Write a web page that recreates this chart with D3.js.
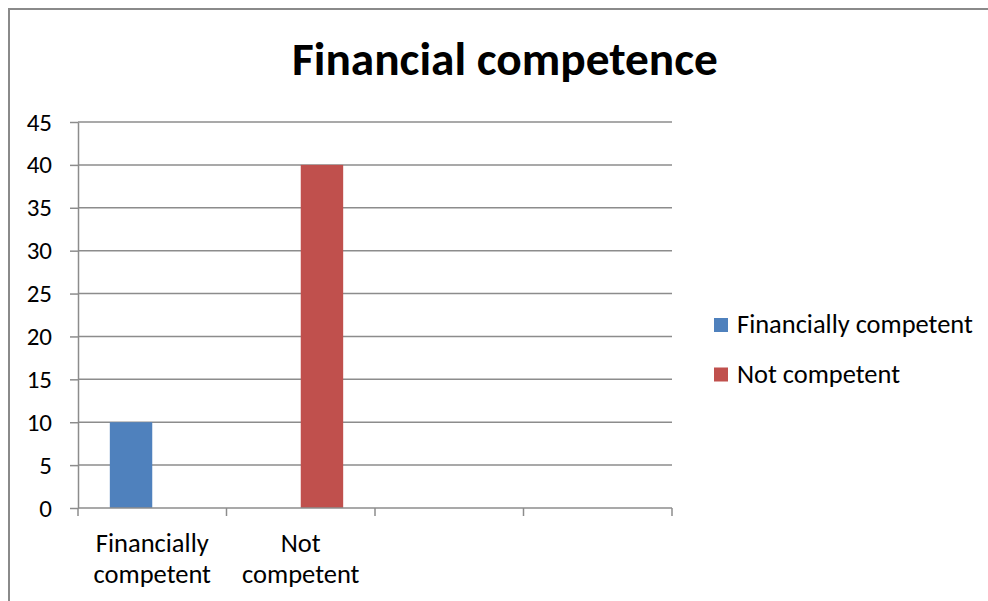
<!DOCTYPE html>
<html>
<head>
<meta charset="utf-8">
<script src="https://cdn.jsdelivr.net/npm/d3@7"></script>
<style>
  html, body { margin: 0; padding: 0; background: #ffffff; }
  svg { display: block; }
  text { font-family: Carlito, "Open Sans", "Liberation Sans", sans-serif; fill: #000000; }
</style>
</head>
<body>
<svg id="chart" width="988" height="601"></svg>
<script>
// Chart data
const title = "Financial competence";
const categories = ["Financially competent", "Not competent", "", ""];
const categoryLines = [["Financially", "competent"], ["Not", "competent"], [], []];
const seriesNames = ["Financially competent", "Not competent"];
const financiallyCompetent = [10, 0, null, null];
const notCompetent = [0, 40, null, null];
const seriesColors = ["#4F81BD", "#C0504D"];
const yTicks = [0, 5, 10, 15, 20, 25, 30, 35, 40, 45];

const seriesValues = [financiallyCompetent, notCompetent];

const W = 988, H = 601;
const plot = { left: 78, right: 672, top: 122, bottom: 508 };
const gridColor = "#8c8c8c";

const svg = d3.select("#chart");

// Outer chart frame (extends past the window on the right and bottom)
svg.append("rect")
  .attr("x", 9).attr("y", 9)
  .attr("width", W + 40).attr("height", H + 40)
  .attr("fill", "#ffffff")
  .attr("stroke", "#8a8a8a")
  .attr("stroke-width", 2);

// Scales
const y = d3.scaleLinear().domain([0, 45]).range([plot.bottom, plot.top]);
const x0 = d3.scaleBand().domain(d3.range(categories.length)).range([plot.left, plot.right]).padding(0);
// 150% gap between clusters -> 0.75 bar widths on each side
const x1 = d3.scaleBand().domain(d3.range(seriesNames.length)).range([0, x0.bandwidth()])
  .paddingInner(0).paddingOuter(0.75);

// Horizontal gridlines
svg.append("g")
  .selectAll("line")
  .data(yTicks.filter(t => t > 0))
  .join("line")
  .attr("x1", plot.left).attr("x2", plot.right)
  .attr("y1", d => y(d)).attr("y2", d => y(d))
  .attr("stroke", gridColor).attr("stroke-width", 1.5);

// Y axis
const yAxis = svg.append("g")
  .attr("transform", `translate(${plot.left},0)`)
  .call(d3.axisLeft(y).tickValues(yTicks).tickSize(8).tickSizeOuter(0).tickPadding(18));
yAxis.select(".domain").attr("stroke", gridColor).attr("stroke-width", 1.5);
yAxis.selectAll(".tick line").attr("stroke", gridColor).attr("stroke-width", 1.5);
yAxis.selectAll(".tick text")
  .attr("font-size", 25)
  .attr("font-family", 'Carlito, "Open Sans", sans-serif')
  .attr("fill", "#000");

// Bars
const barG = svg.append("g");
seriesValues.forEach((vals, si) => {
  barG.append("g")
    .selectAll("rect")
    .data(vals.map((v, i) => ({ v, i })).filter(d => d.v != null && d.v > 0))
    .join("rect")
    .attr("x", d => x0(d.i) + x1(si))
    .attr("width", x1.bandwidth())
    .attr("y", d => y(d.v))
    .attr("height", d => y(0) - y(d.v))
    .attr("fill", seriesColors[si]);
});

// X axis
const xAxis = svg.append("g")
  .attr("transform", `translate(0,${plot.bottom})`);
xAxis.append("line")
  .attr("x1", plot.left).attr("x2", plot.right)
  .attr("y1", 0).attr("y2", 0)
  .attr("stroke", gridColor).attr("stroke-width", 1.5);
const boundaries = d3.range(categories.length + 1).map(i => plot.left + i * x0.step());
xAxis.selectAll("line.tick")
  .data(boundaries)
  .join("line")
  .attr("class", "tick")
  .attr("x1", d => d).attr("x2", d => d)
  .attr("y1", 0).attr("y2", 8)
  .attr("stroke", gridColor).attr("stroke-width", 1.5);

// Category labels (wrapped over two lines)
const catLabels = svg.append("g");
categoryLines.forEach((lines, i) => {
  const cx = x0(i) + x0.bandwidth() / 2;
  const t = catLabels.append("text")
    .attr("text-anchor", "middle")
    .attr("font-size", 26.5);
  lines.forEach((ln, k) => {
    t.append("tspan").attr("x", cx).attr("y", 552 + k * 31).text(ln);
  });
});

// Title
const titleText = svg.append("text")
  .attr("x", 505).attr("y", 75)
  .attr("text-anchor", "middle")
  .attr("font-weight", "bold")
  .attr("font-size", 39)
  .text(title);

// Legend
const legend = svg.append("g");
const legendRows = [333, 382.5];
seriesNames.forEach((name, i) => {
  legend.append("rect")
    .attr("x", 714).attr("y", legendRows[i] - 15)
    .attr("width", 14).attr("height", 14)
    .attr("fill", seriesColors[i]);
  legend.append("text")
    .attr("x", 737).attr("y", legendRows[i])
    .attr("font-size", 23)
    .text(name);
});

// Scale text so its width equals a target width
function fitWidth(sel, target) {
  const node = sel.node();
  const w = node.getComputedTextLength();
  const fs = parseFloat(sel.attr("font-size"));
  if (w > 0) sel.attr("font-size", fs * target / w);
}
fitWidth(titleText, 426);
fitWidth(legend.selectAll("text").filter((d, i) => i === 0), 236);
const nl = legend.selectAll("text").filter((d, i) => i === 0).attr("font-size");
legend.selectAll("text").attr("font-size", nl);
</script>
</body>
</html>
